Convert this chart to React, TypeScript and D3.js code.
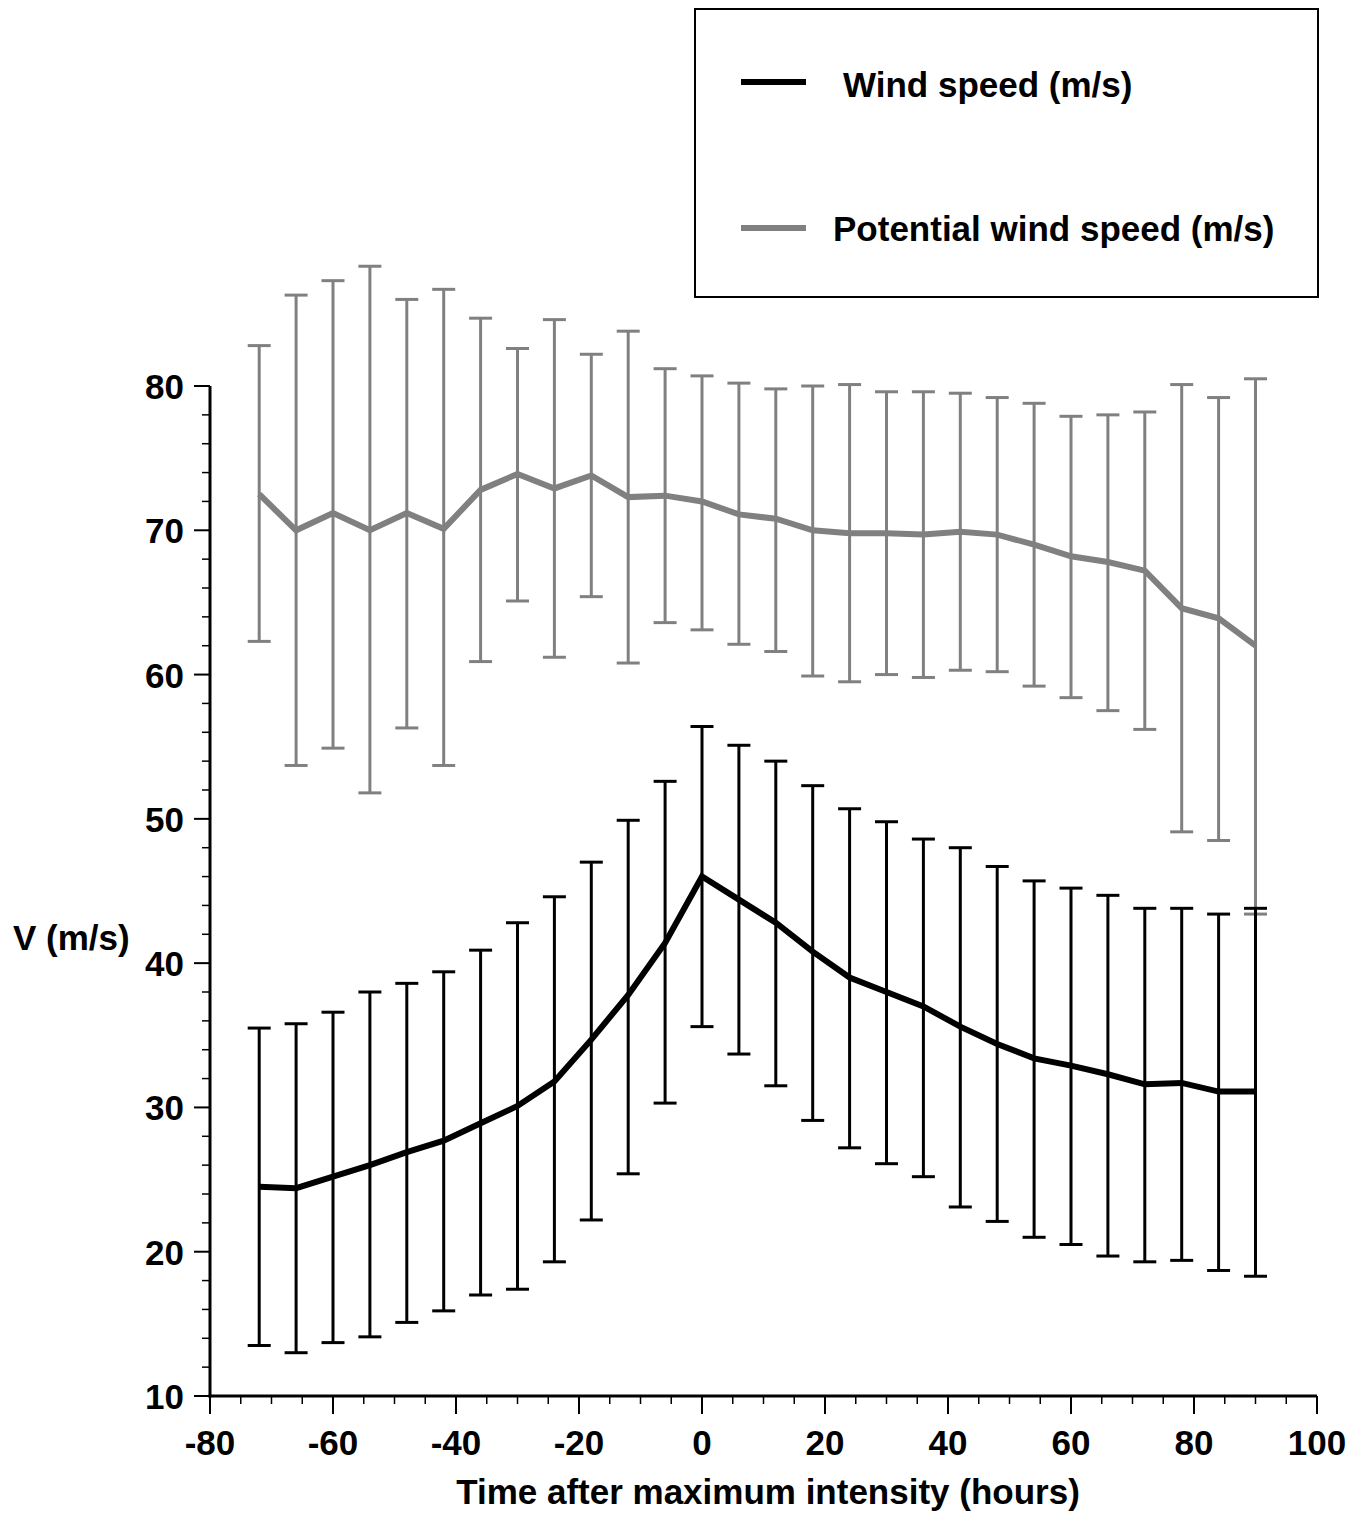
import React from "react";
import * as d3 from "d3";

const hours = [-72, -66, -60, -54, -48, -42, -36, -30, -24, -18, -12, -6, 0, 6, 12, 18, 24, 30, 36, 42, 48, 54, 60, 66, 72, 78, 84, 90];

const windSpeed = [24.5, 24.4, 25.2, 26.0, 26.9, 27.7, 28.9, 30.1, 31.8, 34.7, 37.8, 41.4, 46.0, 44.4, 42.8, 40.8, 39.0, 38.0, 37.0, 35.6, 34.4, 33.4, 32.9, 32.3, 31.6, 31.7, 31.1, 31.1];
const windHigh = [35.5, 35.8, 36.6, 38.0, 38.6, 39.4, 40.9, 42.8, 44.6, 47.0, 49.9, 52.6, 56.4, 55.1, 54.0, 52.3, 50.7, 49.8, 48.6, 48.0, 46.7, 45.7, 45.2, 44.7, 43.8, 43.8, 43.4, 43.8];
const windLow = [13.5, 13.0, 13.7, 14.1, 15.1, 15.9, 17.0, 17.4, 19.3, 22.2, 25.4, 30.3, 35.6, 33.7, 31.5, 29.1, 27.2, 26.1, 25.2, 23.1, 22.1, 21.0, 20.5, 19.7, 19.3, 19.4, 18.7, 18.3];

const potential = [72.5, 70.0, 71.2, 70.0, 71.2, 70.1, 72.8, 73.9, 72.9, 73.8, 72.3, 72.4, 72.0, 71.1, 70.8, 70.0, 69.8, 69.8, 69.7, 69.9, 69.7, 69.0, 68.2, 67.8, 67.2, 64.6, 63.9, 62.0];
const potHigh = [82.8, 86.3, 87.3, 88.3, 86.0, 86.7, 84.7, 82.6, 84.6, 82.2, 83.8, 81.2, 80.7, 80.2, 79.8, 80.0, 80.1, 79.6, 79.6, 79.5, 79.2, 78.8, 77.9, 78.0, 78.2, 80.1, 79.2, 80.5];
const potLow = [62.3, 53.7, 54.9, 51.8, 56.3, 53.7, 60.9, 65.1, 61.2, 65.4, 60.8, 63.6, 63.1, 62.1, 61.6, 59.9, 59.5, 60.0, 59.8, 60.3, 60.2, 59.2, 58.4, 57.5, 56.2, 49.1, 48.5, 43.4];

const xMajorTicks = [-80, -60, -40, -20, 0, 20, 40, 60, 80, 100];
const yMajorTicks = [10, 20, 30, 40, 50, 60, 70, 80];

const seriesNames = ["Wind speed (m/s)", "Potential wind speed (m/s)"];
const xTitle = "Time after maximum intensity (hours)";
const yTitle = "V (m/s)";

const W = 1352;
const H = 1515;
const FONT = "'Liberation Sans', Arial, Helvetica, sans-serif";
const GRAY = "#808080";
const FS = 35;

export default function App() {
  const x = d3.scaleLinear().domain([-80, 100]).range([210, 1317]);
  const y = d3.scaleLinear().domain([10, 80]).range([1396, 386]);

  const xMinor = d3.range(-80, 100.1, 5).filter((v) => !xMajorTicks.includes(v));
  const yMinor = d3.range(10, 80.1, 2).filter((v) => !yMajorTicks.includes(v));

  const line = (vals: number[]) =>
    d3
      .line<number>()
      .x((_, i) => x(hours[i]))
      .y((d) => y(d))(vals) as string;

  const capHalf = 11.5;

  const errorBars = (hi: number[], lo: number[], color: string, key: string) =>
    hours.map((h, i) => {
      const cx = x(h);
      return (
        <g key={key + i} stroke={color} strokeWidth={3} fill="none">
          <line x1={cx} x2={cx} y1={y(hi[i])} y2={y(lo[i])} />
          <line x1={cx - capHalf} x2={cx + capHalf} y1={y(hi[i])} y2={y(hi[i])} />
          <line x1={cx - capHalf} x2={cx + capHalf} y1={y(lo[i])} y2={y(lo[i])} />
        </g>
      );
    });

  return (
    <svg
      width={W}
      height={H}
      style={{ position: "absolute", left: 0, top: 0, background: "#fff" }}
      fontFamily={FONT}
      fontWeight="bold"
    >
      <rect x={0} y={0} width={W} height={H} fill="#fff" />

      {/* Legend */}
      <rect x={695} y={9} width={623} height={288} fill="#fff" stroke="#000" strokeWidth={2} />
      <line x1={741} x2={806} y1={82} y2={82} stroke="#000" strokeWidth={6} />
      <text x={843} y={97} fontSize={FS} fill="#000">{seriesNames[0]}</text>
      <line x1={741} x2={806} y1={228} y2={228} stroke={GRAY} strokeWidth={6} />
      <text x={833} y={241} fontSize={FS} fill="#000">{seriesNames[1]}</text>

      {/* Potential wind speed */}
      {errorBars(potHigh, potLow, GRAY, "p")}
      <path d={line(potential)} fill="none" stroke={GRAY} strokeWidth={6} strokeLinejoin="miter" />

      {/* Wind speed */}
      {errorBars(windHigh, windLow, "#000", "w")}
      <path d={line(windSpeed)} fill="none" stroke="#000" strokeWidth={6} strokeLinejoin="miter" />

      {/* Axes */}
      <line x1={210} x2={210} y1={y(80)} y2={y(10) + 1.5} stroke="#000" strokeWidth={3} />
      <line x1={208.5} x2={x(100)} y1={y(10)} y2={y(10)} stroke="#000" strokeWidth={3} />

      {xMajorTicks.map((t) => (
        <g key={"xt" + t}>
          <line x1={x(t)} x2={x(t)} y1={y(10)} y2={y(10) + 18} stroke="#000" strokeWidth={2} />
          <text x={x(t)} y={1455} fontSize={FS} textAnchor="middle" fill="#000">
            {t}
          </text>
        </g>
      ))}
      {xMinor.map((t) => (
        <line key={"xm" + t} x1={x(t)} x2={x(t)} y1={y(10)} y2={y(10) + 8} stroke="#000" strokeWidth={1.5} />
      ))}

      {yMajorTicks.map((t) => (
        <g key={"yt" + t}>
          <line x1={210} x2={194} y1={y(t)} y2={y(t)} stroke="#000" strokeWidth={2} />
          <text x={184} y={y(t) + 13} fontSize={FS} textAnchor="end" fill="#000">
            {t}
          </text>
        </g>
      ))}
      {yMinor.map((t) => (
        <line key={"ym" + t} x1={210} x2={202} y1={y(t)} y2={y(t)} stroke="#000" strokeWidth={1.5} />
      ))}

      <text x={768} y={1504} fontSize={FS} textAnchor="middle" fill="#000">
        {xTitle}
      </text>
      <text x={13} y={950} fontSize={FS} fill="#000">
        {yTitle}
      </text>
    </svg>
  );
}
